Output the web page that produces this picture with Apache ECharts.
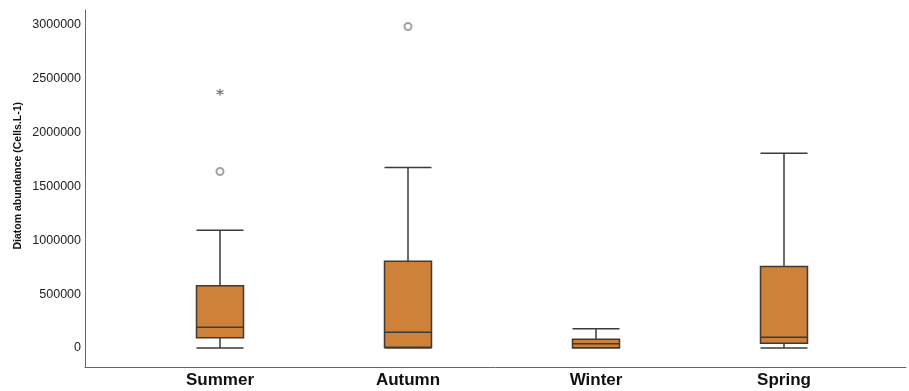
<!DOCTYPE html>
<html>
<head>
<meta charset="utf-8">
<script src="https://cdn.jsdelivr.net/npm/echarts@6/dist/echarts.min.js"></script>
<style>html,body{margin:0;padding:0;background:#fff;}#c{width:909px;height:391px;}</style>
</head>
<body>
<div id="c"></div>
<script>
var categories = ['Summer', 'Autumn', 'Winter', 'Spring'];
// [min, Q1, median, Q3, max]
var boxValues = [
  [0, 96000, 192000, 579000, 1094000],
  [0, 6000, 146000, 806000, 1676000],
  [0, 3000, 40000, 81000, 179000],
  [0, 44000, 99000, 756000, 1809000]
];
var outlierCircles = [['Summer', 1639000], ['Autumn', 2986000]];
var outlierStars = [['Summer', 2376000]];
var yTicks = [0, 500000, 1000000, 1500000, 2000000, 2500000, 3000000];
var yName = 'Diatom abundance (Cells.L-1)';

var chart = echarts.init(document.getElementById('c'));
chart.setOption({
  animation: false,
  backgroundColor: '#fff',
  grid: [
    {left: 126, right: 31, top: 25, bottom: 43},
    {left: 85, right: 3, top: 10, bottom: 24}
  ],
  xAxis: [
    {type: 'category', gridIndex: 0, data: categories,
     axisLine: {show: false}, axisTick: {show: false},
     axisLabel: {margin: 24, color: '#111', fontSize: 17, fontWeight: 'bold', fontFamily: 'Liberation Sans, Arial'}},
    {type: 'value', gridIndex: 1, min: 0, max: 1,
     axisLine: {show: true, lineStyle: {color: '#666', width: 1}},
     axisTick: {show: false}, axisLabel: {show: false}, splitLine: {show: false}}
  ],
  yAxis: [
    {type: 'value', gridIndex: 0, min: yTicks[0], max: yTicks[yTicks.length - 1], interval: 500000,
     offset: 41,
     axisLine: {show: false}, axisTick: {show: false}, splitLine: {show: false},
     axisLabel: {margin: 4, color: '#222', fontSize: 12.5, fontFamily: 'Liberation Sans, Arial',
       formatter: function (v) { return String(v); }}},
    {type: 'value', gridIndex: 1, min: 0, max: 1,
     axisLine: {show: true, lineStyle: {color: '#666', width: 1}},
     axisTick: {show: false}, axisLabel: {show: false}, splitLine: {show: false}}
  ],
  graphic: [{
    type: 'text', left: 13, top: 102, rotation: Math.PI / 2,
    style: {text: yName, fill: '#111', font: 'bold 10.5px "Liberation Sans", Arial'}
  }],
  series: [
    {type: 'boxplot', xAxisIndex: 0, yAxisIndex: 0, data: boxValues,
     boxWidth: [47, 47],
     itemStyle: {color: '#CD8139', borderColor: '#3f3a36', borderWidth: 1.5}},
    {type: 'scatter', xAxisIndex: 0, yAxisIndex: 0, data: outlierCircles,
     symbol: 'emptyCircle', symbolSize: 7,
     itemStyle: {color: '#8a8a8a', borderColor: '#8a8a8a', borderWidth: 1.3}},
    {type: 'scatter', xAxisIndex: 0, yAxisIndex: 0, data: outlierStars,
     symbol: 'path://M5,0L5,10M0.7,2.5L9.3,7.5M0.7,7.5L9.3,2.5', symbolSize: 7,
     itemStyle: {color: 'none', borderColor: '#555', borderWidth: 1.2}}
  ]
});
</script>
</body>
</html>
